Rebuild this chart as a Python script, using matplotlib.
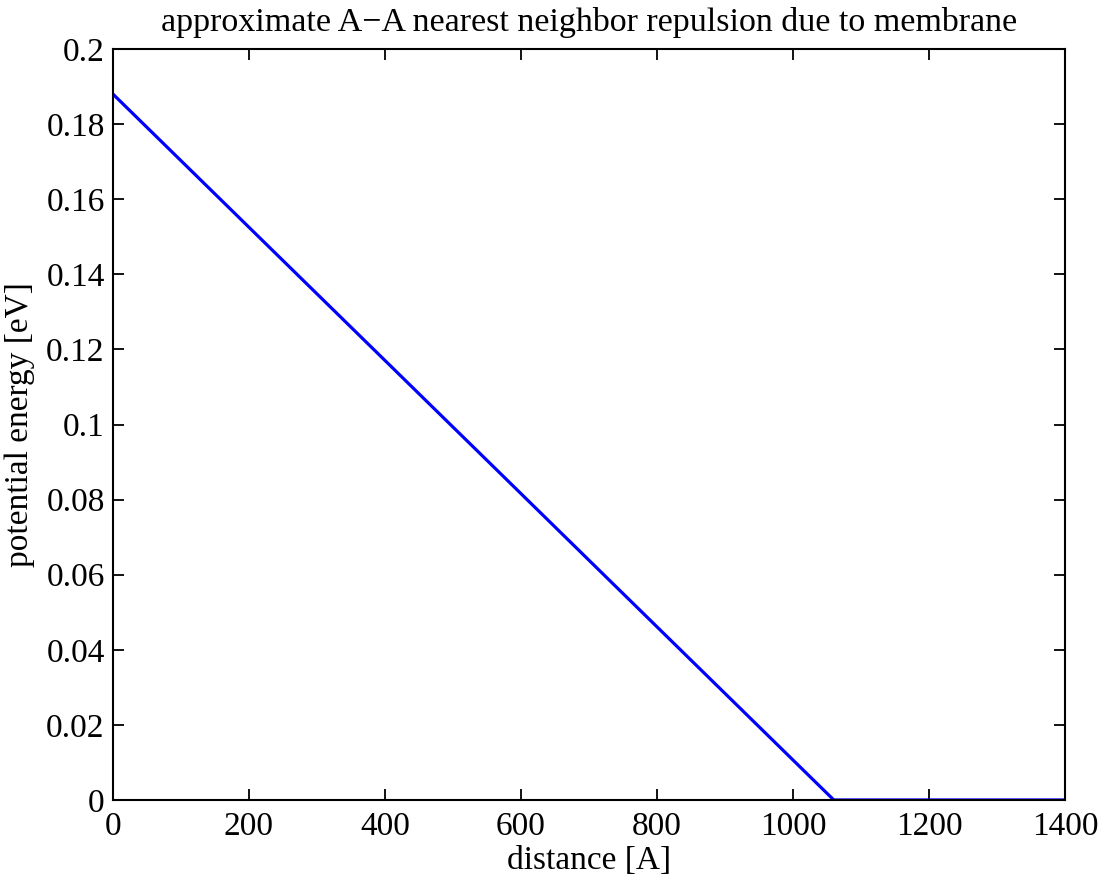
import matplotlib
matplotlib.use("Agg")
import matplotlib.pyplot as plt
import numpy as np

# piecewise-linear membrane repulsion: linear down to the cutoff, flat after
distance = [0, 1060, 1400]
energy = [0.188, 0.0, 0.0]

xticks = [0, 200, 400, 600, 800, 1000, 1200, 1400]
yticks = [0, 0.02, 0.04, 0.06, 0.08, 0.1, 0.12, 0.14, 0.16, 0.18, 0.2]
ytick_labels = ["0", "0.02", "0.04", "0.06", "0.08", "0.1", "0.12", "0.14", "0.16", "0.18", "0.2"]

plt.rcParams["font.family"] = ["Liberation Serif", "DejaVu Serif"]

fig = plt.figure(figsize=(11.01, 8.74), dpi=100)
ax = fig.add_axes([0.1026, 0.0847, 0.8647, 0.8592])

ax.plot(distance, energy, color=(0, 0, 1), linewidth=2.3)

ax.set_xlim(0, 1400)
ax.set_ylim(0, 0.2)
ax.set_xticks(xticks)
ax.set_xticklabels([str(t) for t in xticks])
ax.set_yticks(yticks)
ax.set_yticklabels(ytick_labels)
ax.tick_params(direction="in", length=8, width=1.3, top=True, right=True,
               labelsize=24)
ax.tick_params(axis="y", pad=6)
ax.tick_params(axis="x", pad=8.5)
for s in ax.spines.values():
    s.set_linewidth(1.5)

ax.set_xlabel("distance [A]", fontsize=24, labelpad=2)
ax.set_ylabel("potential energy [eV]", fontsize=24, labelpad=8)
ax.set_title("approximate A\u2212A nearest neighbor repulsion due to membrane",
             fontsize=24.5, pad=13)

fig.savefig("out.png", dpi=100)
